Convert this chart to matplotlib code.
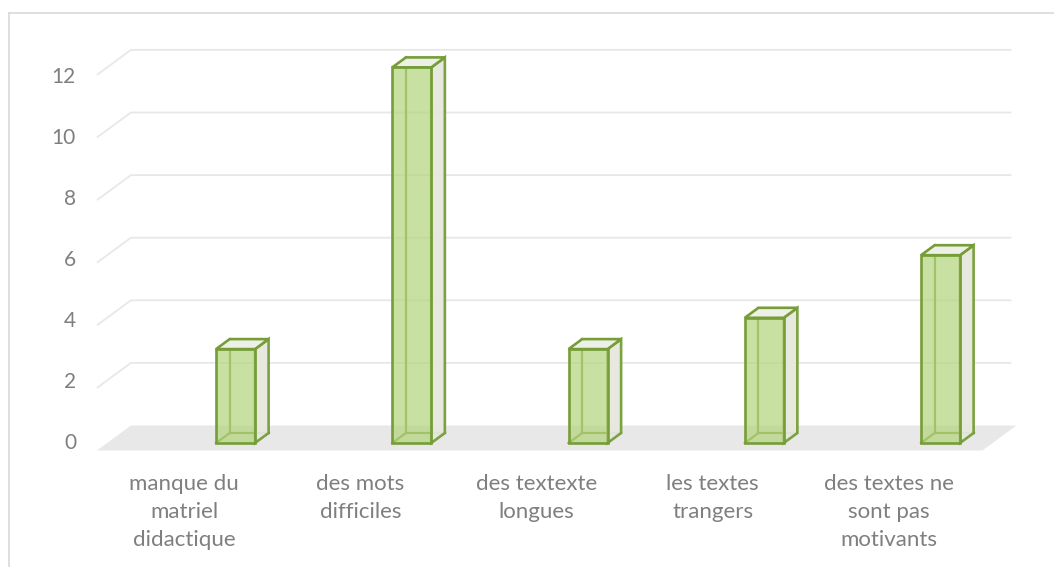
import numpy as np
import matplotlib.pyplot as plt
from matplotlib.patches import Polygon
from matplotlib.lines import Line2D

categories = ["manque du\nmatriel\ndidactique", "des mots\ndifficiles",
              "des textexte\nlongues", "les textes\ntrangers",
              "des textes ne\nsont pas\nmotivants"]
values = [3, 12, 3, 4, 6]
yticks = [0, 2, 4, 6, 8, 10, 12]

# pseudo 3d geometry (x in category units, y in value units)
px_x = 176.25
px_y = 31.3
dx = 34 / px_x          # full depth shift to the right
dy = 25 / px_y          # full depth shift upwards
floor_l, floor_r = -0.494, 4.53
bar_off, bar_w = 0.124, 0.221
d0, d1 = 0.3, 0.7

edge = '#769d38'
front_c = '#b3d47c'
side_c = '#e6e8de'
top_c = '#edf0e6'
grid_c = '#e8e8e8'
txt_c = '#7f7f7f'

fig = plt.figure(figsize=(10.54, 5.67), dpi=100)
ax = fig.add_axes([0, 0, 1, 1])
ax.set_xlim(-184 / px_x, (1054 - 184) / px_x)
ax.set_ylim(-(567 - 450.5) / px_y, 450.5 / px_y)
ax.axis('off')

# floor
ax.add_patch(Polygon([(floor_l, 0), (floor_r, 0), (floor_r + dx, dy), (floor_l + dx, dy)],
                     closed=True, fc='#e8e8e8', ec='none', zorder=1))

# gridlines: side wall + back wall
for t in yticks[1:]:
    ax.plot([floor_l, floor_l + dx, floor_r + dx * 0.85], [t, t + dy, t + dy],
            color=grid_c, lw=1.3, zorder=1, solid_capstyle='butt')

def bar(x, v):
    xl = x + bar_off
    xr = xl + bar_w
    a, b = (dx * d0, dy * d0), (dx * d1, dy * d1)
    # hidden edges
    for xs, ys in [([xl + b[0]] * 2, [b[1], v + b[1]]),
                   ([xl + b[0], xr + b[0]], [b[1], b[1]]),
                   ([xl + a[0], xl + b[0]], [a[1], b[1]])]:
        ax.add_line(Line2D(xs, ys, color=edge, lw=1.6, zorder=3))
    side = [(xr + a[0], a[1]), (xr + b[0], b[1]), (xr + b[0], v + b[1]), (xr + a[0], v + a[1])]
    top = [(xl + a[0], v + a[1]), (xr + a[0], v + a[1]), (xr + b[0], v + b[1]), (xl + b[0], v + b[1])]
    front = [(xl + a[0], a[1]), (xr + a[0], a[1]), (xr + a[0], v + a[1]), (xl + a[0], v + a[1])]
    ax.add_patch(Polygon(side, closed=True, fc=side_c, ec=edge, lw=1.9, alpha=0.95, zorder=4))
    ax.add_patch(Polygon(top, closed=True, fc=top_c, ec=edge, lw=1.9, zorder=4))
    ax.add_patch(Polygon(front, closed=True, fc=front_c, ec='none', alpha=0.7, zorder=5))
    ax.add_patch(Polygon(front, closed=True, fc='none', ec=edge, lw=1.9, zorder=6))

for i, v in enumerate(values):
    bar(i, v)

# tick labels
for t in yticks:
    ax.text(-108 / px_x, (t * 30.5 + 7.5) / px_y, str(t), ha='right', va='center',
            fontsize=15, color=txt_c, family='Lato')

# category labels
for i, c in enumerate(categories):
    ax.text(i, -(474 - 450.5) / px_y, c, ha='center', va='top', fontsize=16,
            color=txt_c, family='Lato', linespacing=1.5)

# chart border
fig.add_artist(Line2D([8.5 / 1054, 8.5 / 1054], [0, 1 - 12.5 / 567], color='#d9d9d9', lw=1.2))
fig.add_artist(Line2D([8.5 / 1054, 1], [1 - 12.5 / 567, 1 - 12.5 / 567], color='#d9d9d9', lw=1.2))

fig.savefig('out.png', dpi=100)
